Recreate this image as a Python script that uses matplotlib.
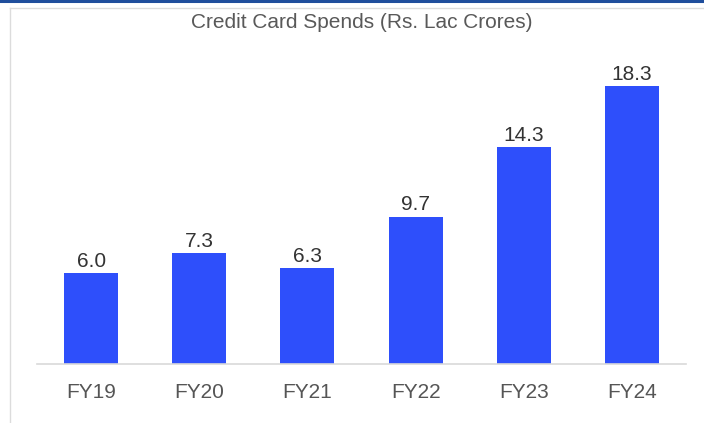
import matplotlib.pyplot as plt
from matplotlib.lines import Line2D

years = ["FY19", "FY20", "FY21", "FY22", "FY23", "FY24"]
spends = [6.0, 7.3, 6.3, 9.7, 14.3, 18.3]

plt.rcParams['font.family'] = ['Liberation Sans', 'DejaVu Sans']

W, H = 704, 423
fig = plt.figure(figsize=(W / 100, H / 100), dpi=100)

# frame decorations: blue rule on top, light grey lines left and top
fig.add_artist(Line2D([0, 1], [1 - 1.5 / H, 1 - 1.5 / H], color="#1f4e9c", lw=2.2))
fig.add_artist(Line2D([10 / W, 1], [1 - 8 / H, 1 - 8 / H], color="#dcdcdc", lw=1))
fig.add_artist(Line2D([10 / W, 10 / W], [0, 1 - 8 / H], color="#dcdcdc", lw=1))

ax = fig.add_axes([37 / W, 59 / H, 649 / W, 304 / H])
x = range(len(years))
bars = ax.bar(x, spends, width=0.5, color="#2e4ffb")
ax.set_xlim(-0.5, len(years) - 0.5)
ax.set_ylim(0, 20)

for b, v in zip(bars, spends):
    ax.annotate(f"{v:.1f}", (b.get_x() + b.get_width() / 2, v), xytext=(0, 1.5),
                textcoords="offset points", ha="center", va="bottom",
                fontsize=15, color="#333333")

ax.set_xticks(list(x))
ax.set_xticklabels(years, fontsize=15, color="#555555")
ax.tick_params(axis="x", length=0, pad=14)
ax.set_yticks([])
for s in ["top", "right", "left"]:
    ax.spines[s].set_visible(False)
ax.spines["bottom"].set_color("#d9d9d9")
ax.spines["bottom"].set_linewidth(1.2)

fig.text(362 / W, 1 - 22 / H, "Credit Card Spends (Rs. Lac Crores)",
         ha="center", va="center", fontsize=15, color="#595959")

fig.savefig("out.png", dpi=100)
